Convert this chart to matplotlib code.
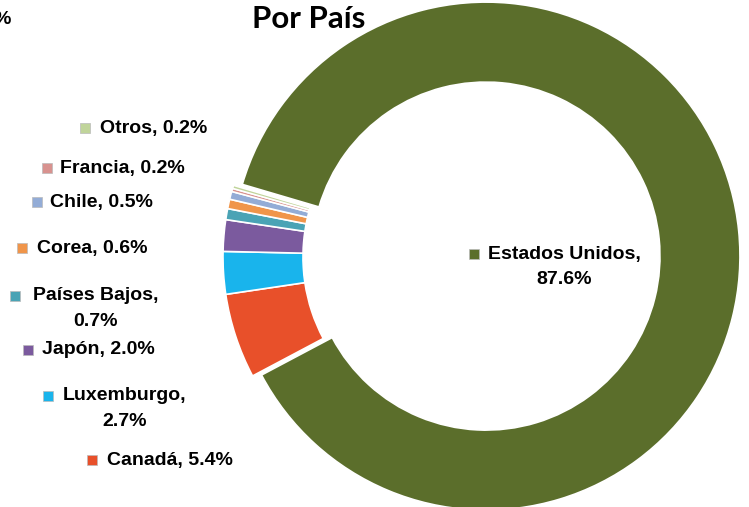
import matplotlib
matplotlib.use("Agg")
import matplotlib.pyplot as plt

W, H = 749, 507

paises = ["Estados Unidos", "Canadá", "Luxemburgo", "Japón", "Países Bajos",
          "Corea", "Chile", "Francia", "Otros"]
porcentajes = [87.6, 5.4, 2.7, 2.0, 0.7, 0.6, 0.5, 0.2, 0.2]
etiquetas = ["Estados Unidos,\n87.6%", "Canadá, 5.4%", "Luxemburgo,\n2.7%",
             "Japón, 2.0%", "Países Bajos,\n0.7%", "Corea, 0.6%",
             "Chile, 0.5%", "Francia, 0.2%", "Otros, 0.2%"]
colores = ["#5b6e2b", "#e8502a", "#19b4ec", "#7b5a9e", "#4aa3b5",
           "#f0954a", "#93acd6", "#d8928f", "#c0d49a"]

# label layout in pixel coords: (marker x, marker y, text x, text y)
pos_etiquetas = [(474, 254, 488, 254), (92, 460, 107, 460), (48, 396, 63, 396),
                 (28, 350, 42, 350), (15, 296, 33, 296), (22, 248, 37, 248),
                 (37, 202, 50, 202), (47, 168, 60, 168), (85, 128, 100, 128)]

plt.rcParams["font.family"] = ["Liberation Sans", "DejaVu Sans"]
FS = 14

fig = plt.figure(figsize=(W / 100, H / 100), dpi=100)
ax = fig.add_axes([0, 0, 1, 1])

centro = (477, H - 257)
radio = 254
explode = [9] + [0] * (len(porcentajes) - 1)

ax.pie(porcentajes, colors=colores, startangle=163.6, counterclock=False,
       center=centro, radius=radio, explode=explode,
       wedgeprops=dict(width=80, edgecolor="white", linewidth=1.2))

ax.set_xlim(0, W)
ax.set_ylim(0, H)
ax.set_aspect("equal")
ax.axis("off")

for (mx, my, tx, ty), txt, c in zip(pos_etiquetas, etiquetas, colores):
    ax.scatter(mx, H - my, marker="s", s=55, color=c, edgecolors="#bbbbbb",
               linewidths=0.5, zorder=5)
    lines = txt.split("\n")
    ax.text(tx, H - ty, lines[0], fontsize=FS, fontweight="bold",
            ha="left", va="center", color="black")
    if len(lines) > 1:
        # second line centred under the first
        t = ax.text(tx, H - ty, lines[0], fontsize=FS, fontweight="bold",
                    alpha=0)
        fig.canvas.draw()
        bb = t.get_window_extent()
        xc = tx + bb.width / 2
        ax.text(xc, H - ty - 26, lines[1], fontsize=FS, fontweight="bold",
                ha="center", va="center", color="black")

ax.text(309, H - 19, "Por País", fontsize=22.5, fontweight="bold",
        family=["Lato", "DejaVu Sans"], ha="center", va="center")
ax.text(-7, H - 20, "%", fontsize=FS, fontweight="bold",
        ha="left", va="center")

fig.savefig("out.png", dpi=100)
